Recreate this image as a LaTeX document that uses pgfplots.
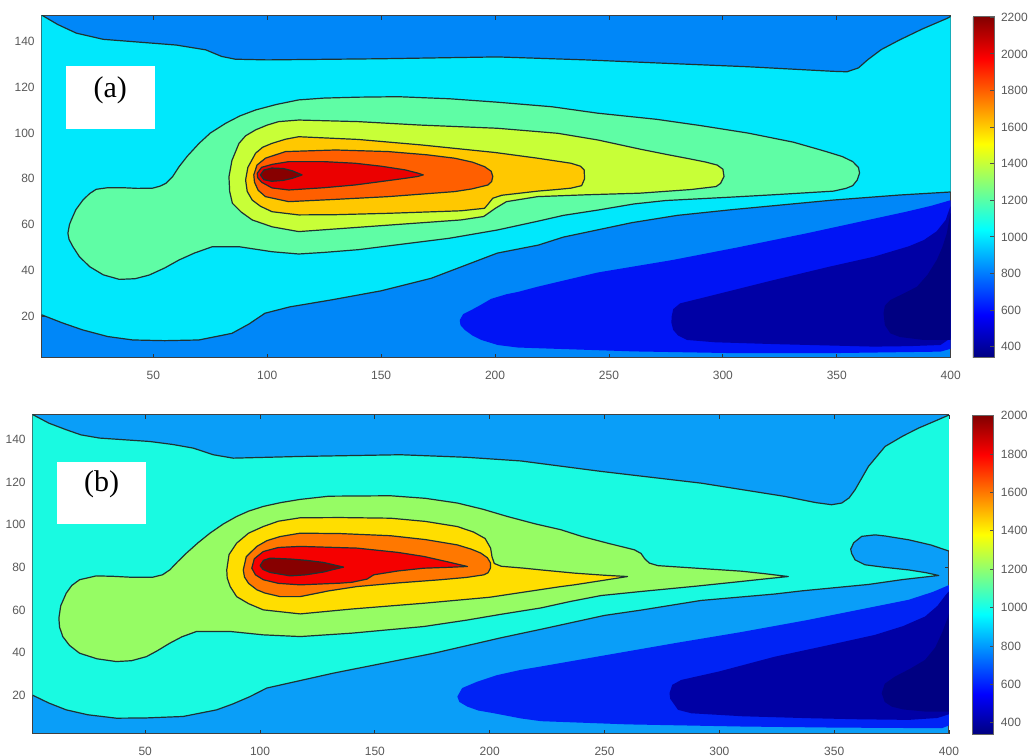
\documentclass[border=0pt]{standalone}
\usepackage{fontspec}
\setmainfont{Liberation Serif}
\newfontfamily\tickfont{Liberation Sans}
\usepackage{pgfplots}
\pgfplotsset{compat=1.18}
\pgfkeys{/pgf/number format/.cd,1000 sep={},assume math mode=true}

% panel (a) colours
\definecolor{mA}{RGB}{0,135,248}
\definecolor{cyA}{RGB}{0,232,252}
\definecolor{grA}{RGB}{95,253,165}
\definecolor{ygA}{RGB}{200,255,55}
\definecolor{orA}{RGB}{255,200,0}
\definecolor{orrA}{RGB}{255,95,0}
\definecolor{rdA}{RGB}{235,0,0}
\definecolor{drA}{RGB}{135,0,0}
\definecolor{blA}{RGB}{0,20,245}
\definecolor{nvA}{RGB}{0,0,165}
\definecolor{dnA}{RGB}{0,0,130}
% panel (b) colours
\definecolor{mB}{RGB}{10,158,248}
\definecolor{cyB}{RGB}{25,250,225}
\definecolor{grB}{RGB}{150,252,100}
\definecolor{goB}{RGB}{255,222,0}
\definecolor{orB}{RGB}{255,120,0}
\definecolor{rdB}{RGB}{245,0,0}
\definecolor{drB}{RGB}{135,0,0}
\definecolor{blB}{RGB}{0,35,245}
\definecolor{nvB}{RGB}{0,0,165}
\definecolor{dnB}{RGB}{0,0,130}
\definecolor{cline}{RGB}{30,50,50}

\pgfplotsset{
 panel/.style={
  scale only axis, clip=true, xmin=1, xmax=400,
  xtick={50,100,...,400}, ytick={20,40,...,140},
  tick align=inside, major tick length=2pt,
  tick style={black!80, line width=0.4pt},
  axis line style={black!75, line width=0.5pt},
  tick label style={font=\tickfont\fontsize{6}{7}\selectfont, text=black!65},
  xticklabel style={yshift=-3pt},
  colorbar, colormap/jet,
 },
 cbar/.style={at={(parent axis.north east)}, anchor=north west, xshift=2.6pt, width=10.5pt,
   ytick pos=right, yticklabel pos=right, tick align=inside, major tick length=2pt,
   tick style={black!70, line width=0.4pt},
   axis line style={black!60, line width=0.4pt},
   tick label style={font=\tickfont\fontsize{6}{7}\selectfont, text=black!65}},
 cont/.style={draw=cline, line width=0.6pt, line join=round},
 low/.style={draw=none},
}

\begin{document}
\begin{tikzpicture}
\path[use as bounding box] (0,0) rectangle (515pt,378pt);

% ================= panel (a) =================
\begin{axis}[panel, at={(20.85pt,199.15pt)}, anchor=south west,
  width=454.5pt, height=170.85pt, ymin=1.75, ymax=151.2,
  axis background/.style={fill=mA},
  point meta min=340, point meta max=2207,
  colorbar style={cbar, ytick={400,600,...,2200}}]
% 1000-1200
\addplot[fill=cyA, cont] coordinates {
(0,152.5) (1,151.6) (8,147.5) (16.2,143.7) (28,141) (40.8,140) (60,138.5) (73,136.4) (80,133.5) (86,132.3) (100,132) (150,132.5) (201,133.3) (240,132) (275,130.5) (311,129) (348.5,127) (354.5,126.8) (359.5,128.5) (363.5,132) (369.5,136.5) (377.5,140.7) (387.5,145.5) (398.5,150.2) (401,151.6) (406,152.5)
(406,74.8) (399.5,74.2) (377.5,72.9) (348.5,70.7) (304,66.5) (280,64) (260,60.8) (230,54.5) (219,51) (201,47.5) (172,36.5) (150,31) (128,27) (110,24) (99,21.2) (92,16.5) (84.5,12.4) (70,9.5) (55,9.2) (41,9.5) (30,11) (19,13.9) (10,17) (1,20.5) (0,20.6)
} -- cycle;
% 1200-1400
\addplot[fill=grA, cont] coordinates {
(12.5,56.2) (13.2,60) (14,62) (16,66.5) (19.1,70.7) (22,73.5) (24.9,75.4) (30,76.1) (36.6,76.1) (43,75.8) (49.7,75.9) (53,76.8) (55.5,78) (58.5,81) (61.3,85.3) (65,90) (70.1,95.5) (75,100) (81.8,104.3) (88,107.5) (94.9,110.1) (104,112.5) (113.8,114.5) (125,115.3) (140,115.7) (157.5,115.9) (180,115) (201,113.5) (225,111.5) (245,108.7) (271,106) (290,103.3) (311,100) (331,96) (345,92) (352.5,89.7) (357,87.5) (359.5,85) (360,82.5) (359,79.5) (357,77) (354,75.8) (348.5,74.6) (322,73) (304,72) (275,70.5) (261,69) (245,66.3) (230,64) (219,61.5) (201,57.6) (180,54) (160,51.5) (140,49) (125,47.8) (113.8,47.1) (102.1,48.1) (87.6,50.3) (75.9,50.3) (68,47.5) (61.3,44.5) (55,41) (48.2,37.9) (42,36.3) (35.1,36) (28,38) (22,41.6) (17.5,46) (14.7,50.3) (13,53.5)
} -- cycle;
% 1400-1600
\addplot[fill=ygA, cont] coordinates {
(83.2,80.9) (84.5,88) (87.6,95.5) (90.5,98.8) (94.9,101.4) (100,103.5) (105,105) (113.8,105.7) (140,105) (167,103.5) (201,102.1) (227.5,99.9) (245,97) (263.5,93) (275,90.7) (285,88.8) (292.5,87.3) (297.5,86) (300,84.2) (300.5,81) (299,78) (297,76.6) (286,75.3) (263.5,73.7) (240,73) (218.7,72.2) (205,70) (200,67) (195,63.5) (185,62) (150,59.5) (113.8,56.9) (102.1,59) (93.4,62) (88.5,65.5) (84.7,69.3) (83.5,74.5)
} -- cycle;
% 1600-1800
\addplot[fill=orA, cont] coordinates {
(90.5,79.5) (91.5,85) (94.9,91.2) (98,93.8) (102.1,95.5) (108,97.3) (113.8,98.4) (140,97.2) (167.7,94.8) (200,91.5) (218.7,89) (233.3,86.8) (237.5,85.5) (239.1,83.9) (239.3,80) (238,77) (233.3,75.9) (227,75.3) (218.7,74.6) (203,72.8) (199,71.5) (197,69) (195.4,67.1) (185,66) (153.2,64.9) (130,64.3) (113.8,64.2) (102.1,65.6) (97,68) (93.4,70.7) (91.2,74.5)
} -- cycle;
% 1800-2000
\addplot[fill=orrA, cont] coordinates {
(94.1,81.7) (95.5,86) (99.2,89) (108,91.9) (130,92.6) (153.2,91.9) (170,90.5) (182.3,89) (190,87.3) (195.4,85.3) (198.3,83.3) (199,81) (198.5,78.8) (196.9,77.3) (190,75.6) (182.3,74.4) (153.2,72.2) (130,71) (109.4,70) (99.2,72.2) (96,75) (94.4,78.5)
} -- cycle;
% 2000-2200
\addplot[fill=rdA, cont] coordinates {
(95.6,82.4) (97.5,85) (102.1,86.3) (109.4,87.5) (125,87.5) (138.6,86.8) (150,85.5) (160.5,83.9) (166,82.5) (168.5,81.7) (166,81) (160.5,80.2) (150,78.8) (138.6,77.3) (125,76.1) (109.4,75.1) (102.1,76) (97.5,78.5) (95.8,80.5)
} -- cycle;
% > 2200
\addplot[fill=drA, cont] coordinates {
(97,81.7) (98.5,83.8) (102,84.7) (107,84.5) (111,83.5) (115.3,81.7) (111,80.2) (107,79.3) (102,78.9) (98.5,79.6)
} -- cycle;
% 600-800
\addplot[fill=blA, low] coordinates {
(184.5,18.2) (186,20.8) (189.6,22.6) (194,25) (198.3,27.5) (205,29.5) (210,30.5) (218.7,32.8) (245,39) (278,44.5) (306.5,50) (337,56.2) (361.5,61.5) (380.5,65.6) (391.5,68.2) (399.5,70.5) (406,71.5) (406,5.5) (399.5,5.5) (395.5,4.4) (351.5,3.8) (307.5,3.7) (261,4.5) (218.7,5.9) (210,6.2) (201.2,7.3) (194,9.5) (190,11.5) (186.7,13.9) (184.8,16)
} -- cycle;
% 400-600
\addplot[fill=nvA, low] coordinates {
(277.5,19.7) (278.2,23) (281.2,25.5) (301.4,30.5) (322.3,35.7) (346.5,41.5) (366.2,45.9) (381.7,50.5) (388.2,53.2) (393.8,57) (397.8,62) (399.8,67.8) (406,69.5) (406,10.2) (399.8,10.2) (395.5,7.3) (381.7,6.8) (366.2,6.6) (322.3,7.7) (296.5,8.5) (284.3,9.5) (280.3,11.5) (278.2,13.9) (277.4,17)
} -- cycle;
% < 400
\addplot[fill=dnA, low] coordinates {
(370.5,21.2) (371.1,24.5) (373.5,27) (379.7,30) (385.2,32.8) (389.8,38) (393.9,44.5) (396.3,50) (398.3,56.2) (399.8,64.9) (406,65.5) (406,9.5) (399.8,9.6) (388.2,9.5) (377.7,10.8) (373.5,12.4) (371.1,16)
} -- cycle;
\fill[white] (axis cs:11.5,101.8) rectangle (axis cs:50.9,129.4);
\node[font=\fontsize{15}{17}\selectfont] at (axis cs:31.1,118.5) {(a)};
\end{axis}

% ================= panel (b) =================
\begin{axis}[panel, at={(16.35pt,11pt)}, anchor=south west,
  width=458.15pt, height=159.5pt, ymin=2, ymax=151.3,
  axis background/.style={fill=mB},
  point meta min=341, point meta max=2003,
  colorbar style={cbar, xshift=0.8pt, ytick={400,600,...,2000}}]
% 1000-1200
\addplot[fill=cyB, cont] coordinates {
(0,152.5) (1,151.5) (8,147.5) (15.6,144.4) (22,142) (30.1,140.5) (52,138.9) (62,137.5) (70.9,135.8) (79.6,132.7) (88.3,131.1) (117.5,131.9) (161.1,132.7) (190,131.5) (213.5,129.8) (248.5,124.9) (292.1,119.4) (328.5,113.2) (342,110.3) (348.9,109.3) (353.3,110.1) (356.5,112.5) (359.1,116.3) (364.9,127.2) (372.2,136.6) (380,141.5) (386.8,145.2) (394,148.5) (400,151.3) (405,152.5)
(405,87.4) (400.6,87.4) (392,90.5) (382.4,92.9) (372,94.7) (367.8,95.2) (362,94.5) (358.5,91.5) (357.2,88.5) (357.6,86.5) (359.1,83.5) (363.4,81.2) (372,80) (382.4,78.8) (390,77.5) (395.5,76.2)
(380,74.3) (365,72) (336,69) (324,67.5) (292,64.5) (266,60) (250,57.5) (222.3,51) (213.5,49) (204.8,47) (175.7,39.8) (132,30.5) (102.9,23.5) (95.6,19.5) (88,16) (81.1,13.3) (66.5,10.2) (50,9.5) (37.4,9.4) (25,11) (15.6,13.3) (8,16.5) (0.7,20.3) (-3,21)
} -- cycle;
% 1200-1400
\addplot[fill=grB, cont] coordinates {
(12.4,56.2) (13.2,62) (15.6,67.9) (18,71.5) (21.4,74.2) (28.7,76) (36,75.8) (43.2,75.4) (53.4,75.4) (57.5,76.5) (60.7,78.8) (64,82.5) (68,86.7) (73,91.5) (78.2,96) (84,100.3) (89.8,103.8) (95,106.3) (101.4,108.5) (109,110.3) (117.5,111.8) (130,113.3) (156.8,113.5) (172,112.3) (185.9,110.1) (197,107.2) (207.7,103.8) (220,100.3) (231,97.6) (240,94.5) (251.4,91.3) (263,88.2) (265.9,86.5) (267.5,84) (269.5,82) (273.2,80.8) (290,79.6) (309.6,78.2) (320,77) (330,75.7)
(320,74.6) (309.6,73.4) (290,71.2) (265.9,68.7) (248.5,66.8) (235,64) (222.3,61) (204.8,58) (190,55.3) (171.3,52.3) (140,49.2) (117.5,47.6) (101.4,48.4) (86.9,50) (72.4,50) (66,47.5) (60.7,44.5) (55,40.8) (50.5,38.2) (44,36.3) (37.4,35.9) (29,37.2) (21.4,39.8) (17,43.5) (14.1,47.6) (12.7,52)
} -- cycle;
% 1400-1600
\addplot[fill=goB, cont] coordinates {
(85.5,78.8) (86.5,86) (89.8,91.3) (95,96) (101.4,99.1) (108,101.6) (117.5,103.2) (135,103.3) (156.8,103) (172,101.5) (185.9,99.1) (193,96.5) (198,93.5) (200.4,89) (201,85) (202,81.8) (205,80.5) (215,79.6) (222.3,78.8) (236.8,77.3) (250,76.3) (260,75.7)
(250,74) (236.8,71.8) (231,71) (222.3,69.6) (200,66) (171.3,63.2) (140,60.5) (117.5,58.2) (101.4,60.1) (95,63) (89.8,66.3) (87,71) (85.7,75)
} -- cycle;
% 1600-1800
\addplot[fill=orB, cont] coordinates {
(92.7,78.8) (94,85) (98.6,89.8) (103,92.5) (108.7,94.4) (117.5,96) (135,95.8) (156.8,94.8) (172,93) (185.9,90.5) (192,88.5) (196.1,86.7) (199,84.5) (200.4,82) (200.3,79.6) (199.3,77.5) (197.5,76.5) (190,75.3) (178.6,74.2) (160,72.7) (142.2,71) (130,69) (117.5,66.3) (108.7,66.3) (102,68) (98.6,69.5) (95,72.5) (93.2,75.5)
} -- cycle;
% 1800-2000
\addplot[fill=rdB, cont] coordinates {
(96.4,79.6) (97.5,84) (101.4,87.4) (108,89.3) (117.5,89.8) (142.2,89) (160,87) (171.3,85.1) (182,82.5) (190.3,80.4) (182,80) (171.3,79.6) (160,78.3) (149.5,76.5) (146.6,74.5) (140,73) (134.9,72.6) (117.5,71.8) (108,72.5) (101.4,74.2) (98,76.5)
} -- cycle;
% > 2000
\addplot[fill=drB, cont] coordinates {
(100,80.8) (101.5,83.3) (104.4,84.3) (113.1,83.9) (120,83.3) (127.6,82.3) (132,81.2) (136.4,80.1) (132,79) (127.6,77.8) (120,76.5) (113.1,76) (104.4,77.6) (101.3,79)
} -- cycle;
% 600-800
\addplot[fill=blB, low] coordinates {
(185.9,19.5) (188,23.5) (194.6,26.5) (203,29.5) (213.5,32) (222.3,33.6) (250,38.8) (280.5,44.5) (310,49.8) (338.7,55.4) (360,60) (382.4,64.8) (393,68.5) (402,72.6) (405,73) (405,6) (400,6) (396.9,4.7) (350,5) (309.6,5.5) (260,6.5) (222.3,8) (213.5,9.3) (201.9,11.7) (195,13) (190.3,14.8) (186.8,17)
} -- cycle;
% 400-600
\addplot[fill=nvB, low] coordinates {
(278.3,21.1) (279.5,25) (283.4,27.3) (300,31.3) (324.2,38.2) (345,43) (367.8,48.4) (380,52.5) (389.6,57) (395,62) (398.5,67) (402.7,72) (405,72.5) (405,11.7) (401.3,11.7) (395,9.5) (382.4,8.6) (360,8.9) (338.7,9.4) (310,10.3) (287.8,11.7) (282,13.3) (280.5,15.6) (278.6,18.5)
} -- cycle;
% < 400
\addplot[fill=dnB, low] coordinates {
(370.7,21.1) (372,25.5) (376.5,28.9) (383,32.5) (389.6,36.7) (394,42.5) (396.9,49.2) (399.3,56) (401.3,63.3) (405,64) (405,12.5) (395,12.5) (389.6,12.5) (380,13.5) (375.1,14.8) (372,17)
} -- cycle;
\fill[white] (axis cs:11.5,100.4) rectangle (axis cs:50.5,129.5);
\node[font=\fontsize{15}{17}\selectfont] at (axis cs:31,119) {(b)};
\end{axis}
\end{tikzpicture}
\end{document}
